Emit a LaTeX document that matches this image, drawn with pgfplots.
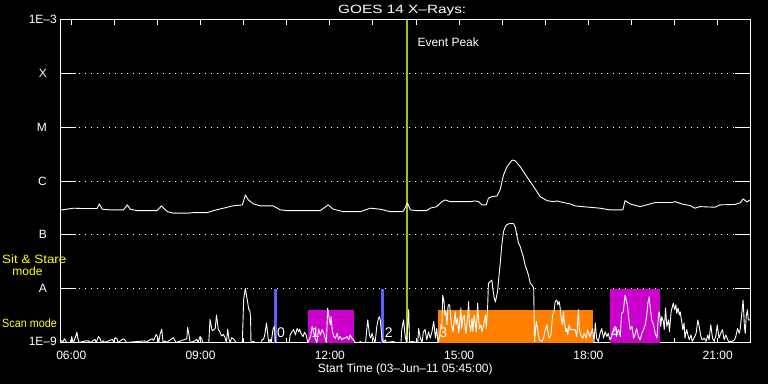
\documentclass[border=0pt]{standalone}
\usepackage{fontspec}
\setmainfont{Liberation Sans}
\usepackage{pgfplots}
\usepackage{pgfplotstable}
\pgfplotsset{compat=1.18}
\definecolor{evgreen}{RGB}{153,204,0}
\definecolor{ssblue}{RGB}{96,96,255}
\definecolor{scmag}{RGB}{204,0,204}
\definecolor{scorange}{RGB}{255,128,0}
\definecolor{lblyellow}{RGB}{255,255,0}

% GOES 14 long channel (1-8 A), time in hours, log10 flux
\pgfplotstableread{
t f
5.75 -6.54
6.05 -6.505
6.21 -6.51
6.60 -6.51
6.65 -6.426
6.72 -6.524
6.91 -6.537
7.21 -6.537
7.30 -6.444
7.37 -6.524
7.53 -6.55
7.99 -6.55
8.09 -6.463
8.23 -6.569
8.37 -6.598
8.70 -6.598
8.84 -6.587
9.16 -6.587
9.30 -6.55
9.53 -6.505
9.74 -6.463
9.97 -6.444
10.04 -6.259
10.11 -6.352
10.23 -6.426
10.39 -6.463
10.69 -6.463
10.85 -6.537
11.01 -6.55
11.78 -6.55
11.96 -6.444
12.08 -6.524
12.31 -6.569
12.71 -6.569
12.94 -6.505
13.17 -6.524
13.40 -6.569
13.63 -6.569
13.71 -6.56
13.80 -6.407
13.87 -6.537
14.02 -6.55
14.25 -6.55
14.33 -6.505
14.48 -6.476
14.60 -6.383
14.68 -6.352
14.79 -6.383
15.26 -6.383
15.37 -6.37
15.45 -6.383
15.53 -6.444
15.63 -6.444
15.68 -6.32
15.76 -6.29
15.88 -6.278
15.95 -6.167
16.03 -5.889
16.11 -5.735
16.23 -5.611
16.30 -5.624
16.42 -5.735
16.57 -5.92
16.73 -6.106
16.88 -6.29
17.04 -6.365
17.19 -6.383
17.27 -6.37
17.42 -6.40
17.58 -6.426
17.69 -6.463
18.27 -6.505
18.50 -6.537
18.80 -6.537
18.85 -6.365
18.97 -6.426
19.20 -6.476
19.43 -6.426
19.55 -6.40
19.94 -6.40
20.01 -6.383
20.17 -6.426
20.36 -6.457
20.47 -6.505
20.59 -6.476
20.94 -6.487
21.05 -6.444
21.40 -6.435
21.52 -6.407
21.59 -6.333
21.68 -6.389
21.75 -6.352
}\longchan

% GOES 14 short channel (0.5-4 A), time in hours, log10 flux (floor at 1E-9)
\pgfplotstableread{
t f
5.77 -8.96
5.80 -9
5.84 -8.93
5.87 -8.97
5.90 -9
5.98 -9
6.01 -8.89
6.04 -9
6.07 -8.96
6.10 -8.89
6.13 -8.81
6.15 -8.91
6.18 -9
6.33 -8.97
6.40 -8.97
6.45 -9
6.55 -8.94
6.58 -9
6.63 -8.89
6.67 -8.93
6.70 -9
6.75 -8.97
6.77 -9
6.96 -8.94
6.98 -9
7.02 -8.91
7.06 -8.93
7.08 -9
7.21 -8.93
7.25 -8.96
7.28 -9
7.70 -8.97
7.72 -9
7.87 -8.93
7.91 -8.96
7.95 -8.89
7.97 -8.85
8.00 -8.89
8.03 -9
8.06 -8.85
8.10 -8.75
8.13 -9
8.18 -8.97
8.21 -9
8.37 -8.91
8.41 -8.97
8.44 -9
8.68 -8.93
8.70 -8.72
8.73 -8.85
8.76 -9
8.87 -8.97
8.91 -8.94
8.94 -9
8.99 -8.89
9.03 -8.93
9.05 -9
9.19 -9
9.22 -8.57
9.26 -8.75
9.28 -8.78
9.34 -8.74
9.37 -8.49
9.41 -8.75
9.45 -8.81
9.49 -8.88
9.53 -8.85
9.57 -8.91
9.60 -9
9.63 -8.75
9.66 -8.94
9.69 -9
9.72 -8.91
9.76 -8.93
9.80 -8.97
9.83 -9
9.97 -9
10.00 -8.20
10.04 -7.99
10.06 -8.09
10.09 -8.24
10.12 -8.39
10.14 -8.39
10.16 -8.52
10.17 -9
10.23 -8.98
10.26 -9
10.41 -9
10.43 -8.94
10.46 -8.94
10.49 -8.86
10.53 -8.64
10.56 -8.86
10.58 -9
10.62 -8.94
10.64 -9
10.68 -8.76
10.71 -8.70
10.74 -9
11.06 -9
11.08 -8.86
11.12 -8.80
11.16 -8.76
11.20 -8.86
11.24 -8.74
11.28 -8.80
11.30 -8.75
11.33 -8.83
11.38 -8.89
11.41 -8.81
11.45 -8.86
11.49 -9
11.55 -8.89
11.59 -8.70
11.62 -8.80
11.66 -8.92
11.70 -9
11.74 -8.75
11.78 -8.86
11.82 -8.76
11.86 -8.83
11.89 -8.92
11.92 -9
11.95 -8.36
11.97 -8.46
11.99 -8.58
12.01 -8.67
12.03 -8.52
12.06 -8.80
12.09 -8.89
12.13 -8.92
12.17 -8.83
12.20 -8.94
12.24 -8.89
12.28 -8.95
12.32 -8.92
12.36 -8.92
12.40 -8.89
12.44 -8.95
12.47 -8.86
12.51 -8.92
12.55 -8.95
12.59 -9
12.68 -9
12.71 -8.98
12.73 -9
12.83 -9
12.86 -8.74
12.88 -8.58
12.92 -8.86
12.95 -8.92
12.98 -8.83
13.01 -8.92
13.05 -9
13.09 -8.70
13.12 -8.58
13.15 -8.52
13.17 -8.58
13.21 -8.92
13.24 -9
13.29 -8.95
13.31 -9
13.48 -8.98
13.51 -9
13.65 -9
13.67 -8.76
13.71 -8.58
13.75 -8.89
13.78 -9
13.83 -8.39
13.85 -9
13.90 -8.98
14.04 -9
14.06 -8.74
14.10 -8.92
14.14 -9
14.17 -8.80
14.21 -8.76
14.25 -8.95
14.29 -8.80
14.33 -8.92
14.37 -8.80
14.41 -8.61
14.45 -8.92
14.48 -8.74
14.51 -9
14.54 -8.92
14.58 -8.67
14.60 -8.74
14.62 -8.12
14.65 -8.24
14.67 -8.49
14.69 -8.43
14.72 -8.67
14.74 -8.36
14.75 -8.30
14.78 -8.30
14.80 -8.49
14.82 -8.67
14.86 -8.80
14.89 -8.55
14.91 -8.43
14.93 -8.67
14.96 -8.55
14.99 -8.83
15.01 -8.67
15.04 -8.36
15.06 -8.74
15.09 -8.55
15.12 -8.49
15.14 -8.74
15.16 -8.83
15.20 -8.49
15.22 -8.24
15.24 -8.67
15.27 -8.80
15.30 -8.55
15.32 -8.80
15.35 -8.49
15.37 -8.61
15.40 -8.80
15.43 -8.27
15.45 -8.55
15.47 -8.74
15.51 -8.67
15.53 -8.80
15.57 -8.67
15.61 -8.49
15.63 -8.74
15.66 -8.38
15.68 -7.90
15.72 -7.87
15.76 -7.84
15.78 -7.99
15.81 -8.15
15.84 -8.25
15.86 -8.18
15.89 -8.06
15.92 -7.81
15.95 -7.56
15.99 -7.19
16.03 -6.94
16.07 -6.85
16.11 -6.81
16.17 -6.79
16.26 -6.79
16.30 -6.85
16.34 -7.01
16.38 -7.16
16.42 -7.22
16.45 -7.31
16.49 -7.41
16.53 -7.56
16.57 -7.65
16.61 -7.75
16.65 -7.90
16.69 -7.93
16.73 -7.99
16.75 -8.98
16.79 -8.61
16.82 -8.74
16.84 -8.86
16.86 -8.95
16.92 -8.98
16.96 -8.92
17.00 -8.76
17.04 -8.67
17.06 -8.80
17.09 -8.92
17.13 -8.86
17.17 -8.49
17.20 -8.43
17.23 -8.24
17.27 -8.21
17.29 -8.30
17.32 -8.24
17.34 -8.33
17.37 -8.55
17.40 -8.67
17.42 -8.43
17.44 -8.61
17.48 -8.80
17.50 -8.74
17.52 -8.86
17.55 -8.67
17.58 -8.76
17.69 -8.76
17.73 -8.89
17.77 -8.39
17.79 -8.76
17.82 -8.86
17.87 -8.92
17.90 -8.83
17.95 -8.92
17.98 -8.76
18.03 -8.89
18.06 -8.83
18.10 -8.74
18.13 -9
18.16 -8.64
18.19 -8.92
18.23 -8.98
18.27 -8.83
18.31 -8.74
18.35 -8.92
18.39 -8.80
18.43 -8.89
18.46 -8.83
18.50 -8.95
18.54 -8.89
18.58 -8.76
18.62 -8.70
18.66 -8.83
18.70 -8.76
18.74 -8.89
18.77 -8.46
18.81 -8.43
18.85 -8.12
18.87 -8.18
18.91 -8.33
18.93 -8.52
18.97 -8.76
19.01 -8.70
19.05 -8.92
19.08 -8.86
19.12 -8.74
19.16 -8.89
19.20 -8.95
19.24 -8.83
19.28 -8.76
19.32 -8.67
19.35 -8.52
19.38 -8.27
19.41 -8.15
19.43 -8.33
19.47 -8.58
19.51 -8.67
19.55 -8.83
19.59 -8.92
19.63 -8.46
19.65 -8.43
19.68 -8.70
19.70 -8.52
19.74 -8.61
19.76 -8.76
19.79 -8.36
19.82 -8.70
19.86 -8.58
19.88 -8.80
19.92 -8.43
19.95 -8.33
19.97 -8.27
20.00 -8.39
20.03 -8.30
20.05 -8.46
20.08 -8.36
20.11 -8.49
20.13 -8.43
20.17 -8.64
20.19 -8.76
20.22 -8.64
20.24 -8.92
20.28 -8.76
20.31 -8.86
20.34 -8.95
20.38 -8.86
20.41 -8.98
20.45 -8.92
20.50 -8.83
20.54 -8.58
20.57 -8.70
20.61 -8.89
20.64 -8.95
20.69 -8.92
20.73 -8.98
20.77 -8.86
20.80 -8.95
20.84 -8.67
20.88 -8.92
20.92 -8.98
20.96 -8.86
20.99 -8.67
21.03 -8.92
21.07 -8.83
21.11 -8.76
21.15 -8.95
21.19 -8.86
21.25 -8.98
21.33 -8.98
21.39 -8.95
21.42 -8.89
21.46 -8.74
21.50 -8.83
21.52 -8.76
21.56 -8.46
21.59 -8.21
21.62 -8.70
21.64 -8.83
21.66 -8.52
21.69 -8.39
21.71 -8.58
21.75 -8.58
}\shortchan

\begin{document}
\begin{tikzpicture}[font=\fontsize{12pt}{14pt}\selectfont]
\fill[black] (0,0) rectangle (768pt,384pt);
\begin{axis}[
  at={(60.5pt,41.5pt)}, anchor=south west,
  width=689.5pt, height=323pt, scale only axis,
  xmin=5.75, xmax=21.75, ymin=-9, ymax=-3,
  axis line style={white, line width=0.9pt},
  tick align=inside,
  major tick length=15pt, minor tick length=5pt,
  xtick={6,9,12,15,18,21},
  xticklabels={06:00,09:00,12:00,15:00,18:00,21:00},
  minor xtick={6,7,8,9,10,11,12,13,14,15,16,17,18,19,20,21},
  every major x tick/.append style={draw=none},
  every minor x tick/.append style={white, line width=0.9pt},
  every major y tick/.append style={white, line width=0.9pt},
  ytick={-9,-8,-7,-6,-5,-4,-3},
  yticklabels={\raisebox{2.5pt}{1E\textendash 9},A\hspace*{10pt},B\hspace*{10pt},C\hspace*{10pt},M\hspace*{10pt},X\hspace*{10pt},\raisebox{-4pt}{1E\textendash 3}},
  ymajorgrids,
  major y grid style={white, line width=0.9pt, dash pattern=on 0.9pt off 5.1pt},
  tick label style={font=\fontsize{12pt}{14pt}\selectfont, text=white},
  xticklabel style={anchor=base, yshift=-16.5pt, inner sep=0pt},
  yticklabel style={anchor=east, inner sep=0pt, xshift=-3.5pt},
  title={\scalebox{1.28}[1.0]{GOES 14 X\textendash Rays:}},
  title style={text=white, at={(axis description cs:0.5,1)}, anchor=base, yshift=0.5pt, xshift=-3pt, inner sep=0pt},
  xlabel={Start Time (03\textendash Jun\textendash 11 05:45:00)},
  xlabel style={text=white, at={(axis description cs:0.5,0)}, anchor=base, yshift=-30pt, inner sep=0pt},
  clip=true,
]
% observation boxes
\addplot[fill=scmag, draw=none] coordinates {(11.50,-9) (11.50,-8.39) (12.57,-8.39) (12.57,-9)} -- cycle;
\addplot[fill=scorange, draw=none] coordinates {(14.52,-9) (14.52,-8.39) (18.11,-8.39) (18.11,-9)} -- cycle;
\addplot[fill=scmag, draw=none] coordinates {(18.50,-9) (18.50,-8.0) (19.66,-8.0) (19.66,-9)} -- cycle;
% sit & stare
\addplot[ssblue, line width=2.7pt] coordinates {(10.74,-9) (10.74,-8.0)};
\addplot[ssblue, line width=2.7pt] coordinates {(13.22,-9) (13.22,-8.0)};
% event peak
\addplot[evgreen, line width=2pt] coordinates {(13.79,-9) (13.79,-3)};
% data
\addplot[white, line width=0.9pt, line join=round] table[x=t, y=f] {\shortchan};
\addplot[white, line width=0.9pt, line join=round] table[x=t, y=f] {\longchan};
% labels
\node[text=white, anchor=base west, inner sep=0pt] at (axis cs:14.03,-3.51) {Event Peak};
\node[text=white, anchor=base west, inner sep=0pt, font=\fontsize{14pt}{16pt}\selectfont] at (axis cs:10.77,-8.91) {0};
\node[text=white, anchor=base west, inner sep=0pt, font=\fontsize{14pt}{16pt}\selectfont] at (axis cs:11.57,-8.91) {1};
\node[text=white, anchor=base west, inner sep=0pt, font=\fontsize{14pt}{16pt}\selectfont] at (axis cs:13.27,-8.91) {2};
\node[text=white, anchor=base west, inner sep=0pt, font=\fontsize{14pt}{16pt}\selectfont] at (axis cs:14.54,-8.91) {3};
\node[text=white, anchor=base west, inner sep=0pt, font=\fontsize{14pt}{16pt}\selectfont] at (axis cs:18.52,-8.91) {4};
\end{axis}
\node[text=lblyellow, anchor=base west, inner sep=0pt] at (2pt,121pt) {\scalebox{1.12}[1]{Sit \& Stare}};
\node[text=lblyellow, anchor=base west, inner sep=0pt] at (12.3pt,109pt) {mode};
\node[text=lblyellow, anchor=base west, inner sep=0pt] at (2pt,56.7pt) {\scalebox{0.9}[1]{Scan mode}};
\pgfresetboundingbox
\useasboundingbox (0,0) rectangle (768pt,384pt);
\end{tikzpicture}
\end{document}
